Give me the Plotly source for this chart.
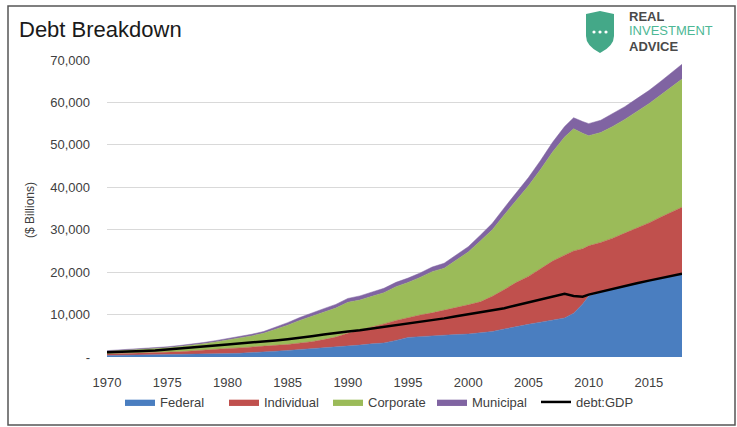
import plotly.graph_objects as go

W, H = 737, 427

# ---------------- data ----------------
years = [1970, 1971, 1972, 1973, 1974, 1975, 1976, 1977, 1978, 1979,
         1980, 1981, 1982, 1983, 1984, 1985, 1986, 1987, 1988, 1989,
         1990, 1991, 1992, 1993, 1994, 1995, 1996, 1997, 1998, 1999,
         2000, 2001, 2002, 2003, 2004, 2005, 2006, 2007, 2008, 2008.75,
         2009.5, 2010, 2011, 2012, 2013, 2014, 2015, 2016, 2017, 2017.75]

federal = [350, 380, 410, 430, 450, 520, 580, 620, 680, 720,
           800, 880, 1000, 1150, 1350, 1550, 1750, 1950, 2100, 2300,
           2500, 2800, 3100, 3300, 3900, 4600, 4800, 5000, 5100, 5300,
           5400, 5650, 6000, 6600, 7200, 7700, 8200, 8700, 9200, 10300,
           12500, 14400, 15300, 16000, 16700, 17300, 17900, 18500, 19100, 19500]

individual = [350, 380, 430, 500, 550, 580, 650, 800, 970, 1130,
              1200, 1270, 1300, 1350, 1400, 1400, 1450, 1650, 2000, 2400,
              3100, 3500, 3900, 4500, 4700, 4700, 5100, 5400, 5900, 6400,
              6900, 7350, 8300, 9300, 10400, 11300, 12600, 13900, 14800, 14700,
              13000, 11800, 11700, 12000, 12500, 13100, 13700, 14500, 15200, 15800]

corporate = [650, 725, 780, 875, 990, 1075, 1230, 1320, 1460, 1690,
             1970, 2300, 2670, 3080, 3780, 4550, 5420, 6040, 6480, 6830,
             7280, 7120, 7290, 7350, 7970, 8270, 8860, 9720, 9920, 11170,
             12450, 14350, 15700, 17650, 19400, 21350, 23400, 25700, 27850, 28800,
             27250, 25950, 25900, 26350, 26800, 27450, 28100, 28800, 29550, 30200]

municipal = [150, 165, 180, 195, 210, 225, 240, 260, 290, 310,
             330, 350, 380, 420, 470, 600, 680, 760, 820, 870,
             920, 980, 1010, 1050, 1030, 1030, 1040, 1080, 1180, 1230,
             1250, 1350, 1500, 1650, 1800, 1950, 2100, 2300, 2450, 2600,
             2750, 2850, 2900, 2950, 3000, 3050, 3100, 3200, 3350, 3500]

debt_gdp = [1100, 1150, 1250, 1400, 1550, 1750, 1950, 2200, 2450, 2700,
            2950, 3150, 3350, 3600, 3900, 4200, 4500, 4900, 5300, 5700,
            6000, 6300, 6700, 7000, 7400, 7800, 8200, 8600, 9100, 9600,
            10100, 10600, 11000, 11500, 12200, 12900, 13600, 14300, 14900, 14400,
            14200, 14700, 15400, 16100, 16800, 17400, 18000, 18600, 19200, 19600]

series_names = ["Federal", "Individual", "Corporate", "Municipal"]
series_values = [federal, individual, corporate, municipal]
series_colors = ["#4A7EC0", "#C0504D", "#9BBB59", "#8064A2"]

y_tickvals = [0, 10000, 20000, 30000, 40000, 50000, 60000, 70000]
y_ticktext = ["-", "10,000", "20,000", "30,000", "40,000", "50,000", "60,000", "70,000"]
x_tickvals = [1970, 1975, 1980, 1985, 1990, 1995, 2000, 2005, 2010, 2015]

# ---------------- helpers ----------------
def px(x):
    return x / W


def py(y):
    return 1 - y / H


FONT = "Liberation Sans, Arial, sans-serif"

fig = go.Figure()
for name, vals, col in zip(series_names, series_values, series_colors):
    fig.add_trace(go.Scatter(
        x=years, y=vals, name=name, mode="lines", stackgroup="one",
        line=dict(width=0.5, color=col), fillcolor=col,
        hoverinfo="skip"))

fig.add_trace(go.Scatter(
    x=years, y=debt_gdp, name="debt:GDP", mode="lines",
    line=dict(width=2.5, color="#000000"), hoverinfo="skip"))

# plot area: x 107..682 px, y 60..357 px
fig.update_layout(
    width=W, height=H,
    margin=dict(l=0, r=0, t=0, b=0, autoexpand=False),
    paper_bgcolor="white", plot_bgcolor="white",
    font=dict(family=FONT, size=13, color="#404040"),
    showlegend=True,
    legend=dict(orientation="h", x=px(380), xanchor="center",
                y=py(402), yanchor="middle",
                font=dict(size=13, color="#404040"),
                itemwidth=30, entrywidth=59, entrywidthmode="pixels",
                traceorder="normal",
                bgcolor="rgba(0,0,0,0)"),
    xaxis=dict(domain=[px(107), px(682)], range=[1970, 2017.75],
               automargin=False,
               tickvals=x_tickvals, ticktext=[str(v) for v in x_tickvals],
               showgrid=False, zeroline=False, showline=False,
               ticks="", ticklabelstandoff=16,
               tickfont=dict(size=13, color="#404040")),
    yaxis=dict(domain=[py(357), py(60)], range=[0, 70000],
               automargin=False,
               tickvals=y_tickvals, ticktext=y_ticktext,
               showgrid=True, gridcolor="#D9D9D9", gridwidth=1,
               zeroline=False, showline=False, ticks="",
               ticklabelstandoff=16,
               tickfont=dict(size=13, color="#404040")),
)

annotations = [
    dict(text="Debt Breakdown", x=px(17), y=py(30), xref="paper", yref="paper",
         xanchor="left", yanchor="middle", showarrow=False,
         font=dict(family=FONT, size=22, color="#1a1a1a")),
    dict(text="($ Billions)", x=px(30), y=py(210), xref="paper", yref="paper",
         xanchor="center", yanchor="middle", showarrow=False, textangle=-90,
         font=dict(family=FONT, size=12, color="#404040")),
    dict(text="<b>REAL</b>", x=px(627), y=py(16), xref="paper", yref="paper",
         xanchor="left", yanchor="middle", showarrow=False, height=13,
         font=dict(family=FONT, size=13, color="#4a4a4a")),
    dict(text="INVESTMENT", x=px(627), y=py(31), xref="paper", yref="paper",
         xanchor="left", yanchor="middle", showarrow=False, height=13,
         font=dict(family=FONT, size=13, color="#4DB896")),
    dict(text="<b>ADVICE</b>", x=px(627), y=py(46), xref="paper", yref="paper",
         xanchor="left", yanchor="middle", showarrow=False, height=13,
         font=dict(family=FONT, size=13, color="#4a4a4a")),
]


def path_from(cmds):
    out = []
    for c in cmds:
        op = c[0]
        pts = c[1:]
        coords = []
        for i in range(0, len(pts), 2):
            coords.append(f"{px(pts[i]):.5f},{py(pts[i+1]):.5f}")
        out.append(op + " " + " ".join(coords))
    return " ".join(out) + " Z"


shield = path_from([
    ("M", 586, 14), ("L", 600, 11), ("L", 614, 14), ("L", 614, 36),
    ("Q", 614, 46, 600, 53), ("Q", 586, 46, 586, 36),
])

shapes = [
    # outer frame
    dict(type="rect", xref="paper", yref="paper",
         x0=px(8), x1=px(735), y0=py(425), y1=py(6),
         line=dict(color="#555555", width=1.5), fillcolor="rgba(0,0,0,0)",
         layer="above"),
    dict(type="path", xref="paper", yref="paper", path=shield,
         fillcolor="#44A888", line=dict(width=0), layer="above"),
]
for dx in (594, 600, 606):
    shapes.append(dict(type="circle", xref="paper", yref="paper",
                       x0=px(dx - 1.6), x1=px(dx + 1.6),
                       y0=py(32 + 1.6), y1=py(32 - 1.6),
                       fillcolor="white", line=dict(width=0), layer="above"))

fig.update_layout(annotations=annotations, shapes=shapes)

fig.write_html("out.html", config={"displayModeBar": False, "staticPlot": True})
